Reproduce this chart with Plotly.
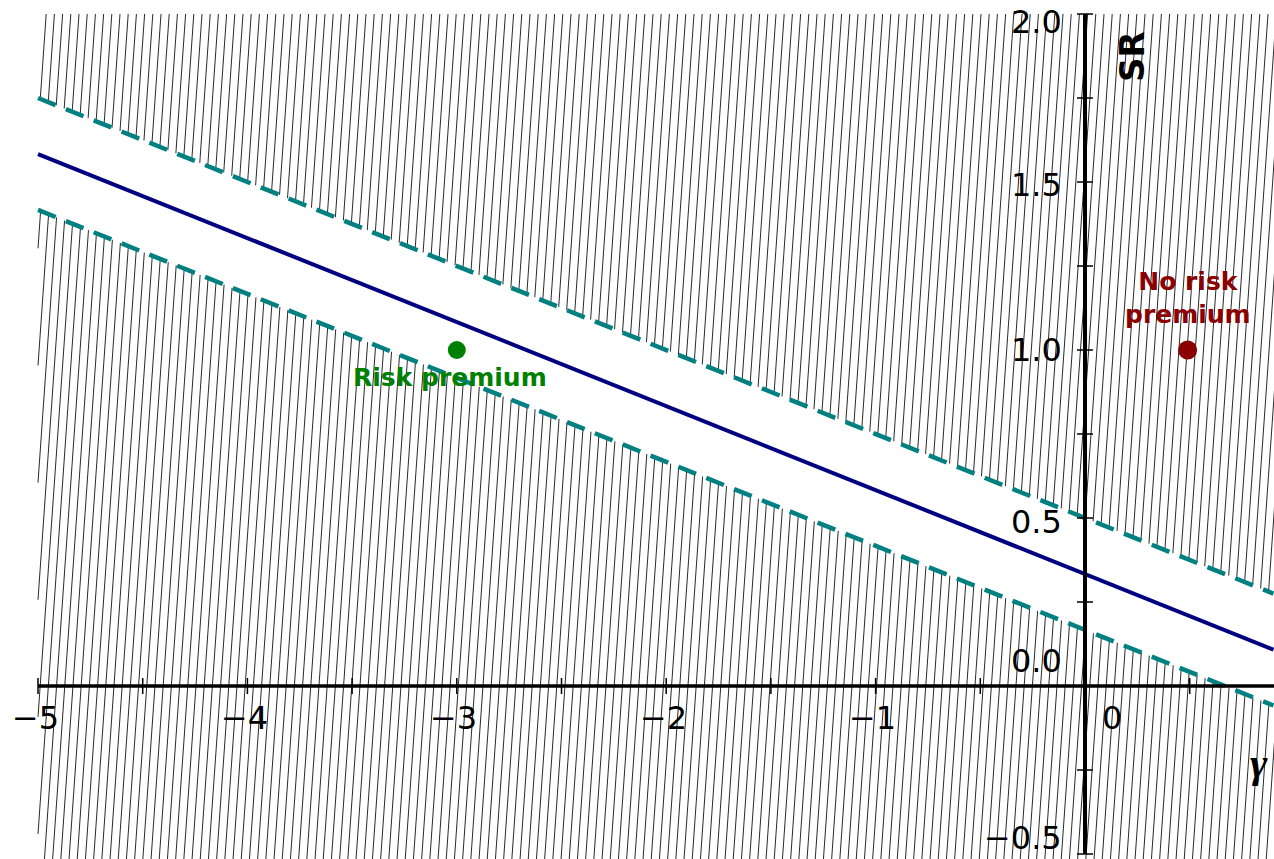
import numpy as np
import plotly.graph_objects as go

# ---------------- data ----------------
gamma = [-5.0, 0.9]
sr_mid = [1.583, 0.108]
sr_upper = [1.75, 0.275]
sr_lower = [1.417, -0.058]

point_risk = {"gamma": [-3.0], "sr": [1.0]}
point_norisk = {"gamma": [0.49], "sr": [1.0]}

x_tick_vals = [-5, -4, -3, -2, -1, 0]
x_tick_text = ["−5", "−4", "−3", "−2", "−1", "0"]
x_minor_ticks = [-5, -4.5, -4, -3.5, -3, -2.5, -2, -1.5, -1, -0.5, 0, 0.5]
y_tick_vals = [2.0, 1.5, 1.0, 0.5, 0.0, -0.5]
y_tick_text = ["2.0", "1.5", "1.0", "0.5", "0.0", "−0.5"]
y_minor_ticks = [-0.5, -0.25, 0, 0.25, 0.5, 0.75, 1.0, 1.25, 1.5, 1.75, 2.0]

# ---------------- layout constants ----------------
W, H = 1274, 859
X_RANGE = [-5.1815, 0.9025]
Y_RANGE = [-0.5149, 2.0417]
px_x = W / (X_RANGE[1] - X_RANGE[0])
px_y = H / (Y_RANGE[1] - Y_RANGE[0])

FONT = "DejaVu Sans, Arial, sans-serif"

fig = go.Figure()

# ---------------- hatching outside the band ----------------
s = 0.07 * px_y / px_x          # dx/dy in data units (slight slant)
spacing = 8.2 / px_x
ymin_h, ymax_h = Y_RANGE[0] - 0.05, 2.0
xleft, xright = gamma[0], X_RANGE[1] + 0.05


def intersect(xb, xs, ys):
    m = (ys[1] - ys[0]) / (xs[1] - xs[0])
    return (ys[0] + m * (xb - s * ymin_h - xs[0])) / (1 - m * s)


hx, hy = [], []
xb = xleft - s * (ymax_h - ymin_h) - spacing * 2
while xb < xright + spacing:
    y_lo = intersect(xb, gamma, sr_lower)
    y_up = intersect(xb, gamma, sr_upper)
    for a, b in [(ymin_h, y_lo), (y_up, ymax_h)]:
        ya = max(a, ymin_h + (xleft - xb) / s)
        yb = min(b, ymin_h + (xright - xb) / s)
        ya = max(ya, ymin_h)
        yb = min(yb, ymax_h)
        if yb > ya:
            hx += [xb + s * (ya - ymin_h), xb + s * (yb - ymin_h), None]
            hy += [ya, yb, None]
    xb += spacing

fig.add_trace(go.Scatter(x=hx, y=hy, mode="lines",
                         line=dict(color="#111111", width=0.9),
                         hoverinfo="skip", showlegend=False))

# ---------------- lines ----------------
fig.add_trace(go.Scatter(x=gamma, y=sr_upper, mode="lines",
                         line=dict(color="#008080", width=4.5, dash="19px,11px"),
                         showlegend=False))
fig.add_trace(go.Scatter(x=gamma, y=sr_lower, mode="lines",
                         line=dict(color="#008080", width=4.5, dash="19px,11px"),
                         showlegend=False))
fig.add_trace(go.Scatter(x=gamma, y=sr_mid, mode="lines",
                         line=dict(color="#000080", width=4),
                         showlegend=False))

# ---------------- axes (through origin) ----------------
shapes = []
shapes.append(dict(type="line", xref="x", yref="y", x0=gamma[0], x1=X_RANGE[1],
                   y0=0, y1=0, line=dict(color="black", width=3.5)))
shapes.append(dict(type="line", xref="x", yref="y", x0=0, x1=0,
                   y0=-0.5, y1=2.0, line=dict(color="black", width=4)))
tx = 8 / px_x
ty = 8 / px_y
for v in x_minor_ticks:
    shapes.append(dict(type="line", xref="x", yref="y", x0=v, x1=v,
                       y0=-ty, y1=ty, line=dict(color="black", width=1.5)))
for v in y_minor_ticks:
    shapes.append(dict(type="line", xref="x", yref="y", x0=-tx, x1=tx,
                       y0=v, y1=v, line=dict(color="black", width=1.5)))

annotations = []
for v, t in zip(x_tick_vals, x_tick_text):
    annotations.append(dict(x=v, y=0, xref="x", yref="y", text=t, showarrow=False,
                            xanchor="center", yanchor="middle",
                            xshift=(27 if v == 0 else -3), yshift=-32,
                            font=dict(family=FONT, size=32, color="black")))
y_shift = {2.0: -8, 1.5: -3, 1.0: 0, 0.5: -4, 0.0: 25, -0.5: 16}
for v, t in zip(y_tick_vals, y_tick_text):
    annotations.append(dict(x=0, y=v, xref="x", yref="y", text=t, showarrow=False,
                            xanchor="right", yanchor="middle",
                            xshift=-21, yshift=y_shift[v],
                            font=dict(family=FONT, size=32, color="black")))

# axis titles
annotations.append(dict(x=1259 / W, y=1 - 763 / H, xref="paper", yref="paper",
                        text="<b><i>γ</i></b>", showarrow=False,
                        xanchor="center", yanchor="middle",
                        font=dict(family="Liberation Serif, Times New Roman, serif",
                                  size=42, color="black")))
annotations.append(dict(x=1132 / W, y=1 - 57 / H, xref="paper", yref="paper",
                        text="<b>SR</b>", showarrow=False, textangle=-90,
                        xanchor="center", yanchor="middle",
                        font=dict(family=FONT, size=34, color="black")))

# ---------------- points ----------------
fig.add_trace(go.Scatter(x=point_risk["gamma"], y=point_risk["sr"], mode="markers",
                         marker=dict(color="#008000", size=18), showlegend=False))
fig.add_trace(go.Scatter(x=point_norisk["gamma"], y=point_norisk["sr"], mode="markers",
                         marker=dict(color="#8B0000", size=19), showlegend=False))

annotations.append(dict(x=point_risk["gamma"][0], y=point_risk["sr"][0],
                        xref="x", yref="y", text="<b>Risk premium</b>",
                        showarrow=False, xanchor="center", yanchor="middle",
                        xshift=-7, yshift=-27,
                        font=dict(family=FONT, size=25, color="#008000")))
annotations.append(dict(x=point_norisk["gamma"][0], y=point_norisk["sr"][0],
                        xref="x", yref="y", text="<b>No risk<br>premium</b>",
                        showarrow=False, xanchor="center", yanchor="middle",
                        xshift=0, yshift=52,
                        font=dict(family=FONT, size=25, color="#8B0000")))

fig.update_layout(
    width=W, height=H,
    margin=dict(l=0, r=0, t=0, b=0),
    paper_bgcolor="white", plot_bgcolor="white",
    xaxis=dict(range=X_RANGE, visible=False, fixedrange=True),
    yaxis=dict(range=Y_RANGE, visible=False, fixedrange=True),
    shapes=shapes, annotations=annotations,
    showlegend=False,
)

fig.write_html("out.html")
